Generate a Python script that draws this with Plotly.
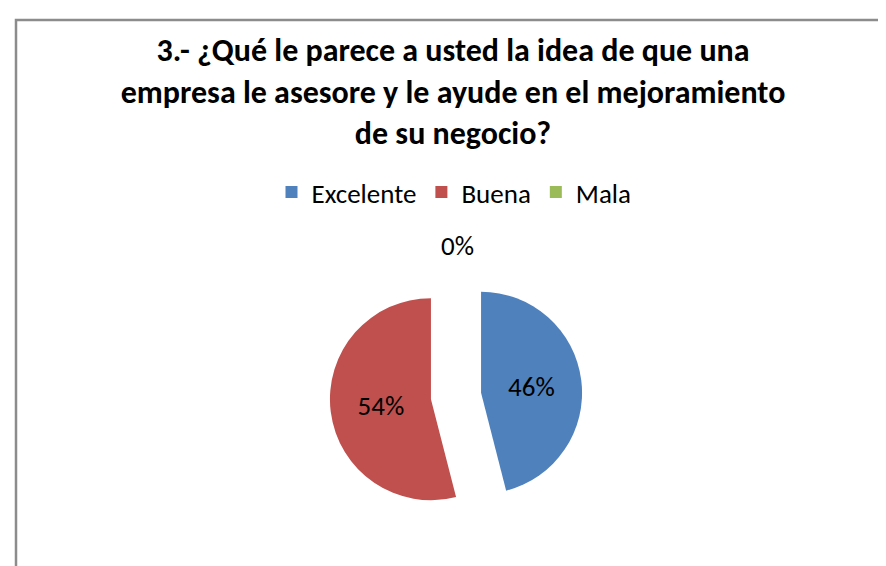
import plotly.graph_objects as go

categories = ["Excelente", "Buena", "Mala"]
values = [46, 54, 0]
colors = ["#4F81BD", "#C0504D", "#9BBB59"]
title_lines = ["3.- ¿Qué le parece a usted la idea de que una",
               "empresa le asesore y le ayude en el mejoramiento",
               "de su negocio?"]

W, H = 886, 566
FONT = "Carlito, Lato, sans-serif"

# pie geometry in pixels
cx, cy, rad, pull = 448, 388, 101, 0.25
half = rad * (1 + pull)

total = sum(values)
fig = go.Figure(go.Pie(
    labels=categories,
    values=values,
    marker=dict(colors=colors, line=dict(width=0)),
    sort=False,
    direction="clockwise",
    rotation=0,
    pull=[pull, pull, pull],
    texttemplate="%{percent:.0%}",
    textposition=["inside", "inside", "none"],
    insidetextorientation="horizontal",
    textfont=dict(family=FONT, size=27, color="#000000"),
    domain=dict(x=[(cx - half) / W, (cx + half) / W],
                y=[1 - (cy + half) / H, 1 - (cy - half) / H]),
    hoverinfo="label+percent",
    showlegend=True,
))

# label of the zero-valued slice (Mala), placed above the pie
mala_pct = values[2] / total
fig.add_annotation(text=f"{mala_pct:.0%}", xref="paper", yref="paper",
                   x=449 / W, y=1 - 237 / H, xanchor="center", yanchor="middle",
                   showarrow=False,
                   font=dict(family=FONT, size=27, color="#000000"))

fig.update_layout(
    width=W, height=H,
    margin=dict(l=0, r=0, t=0, b=0),
    paper_bgcolor="white",
    plot_bgcolor="white",
    font=dict(family=FONT, color="#000000"),
    title=dict(text="<br>".join(title_lines),
               font=dict(family=FONT, size=32, color="#000000", weight="bold"),
               x=445 / W, xanchor="center", xref="paper",
               y=1 - 53 / H, yanchor="top", yref="container"),
    legend=dict(orientation="h", x=446 / W, xanchor="center",
                y=1 - 160 / H, yanchor="top",
                font=dict(family=FONT, size=27, color="#000000"),
                itemwidth=30, traceorder="normal"),
    shapes=[dict(type="rect", xref="paper", yref="paper",
                 x0=8 / W, x1=1.02, y0=-0.02, y1=1 - 12 / H,
                 line=dict(color="#8C8C8C", width=2.5), fillcolor="rgba(0,0,0,0)")],
)

fig.write_html("out.html")
